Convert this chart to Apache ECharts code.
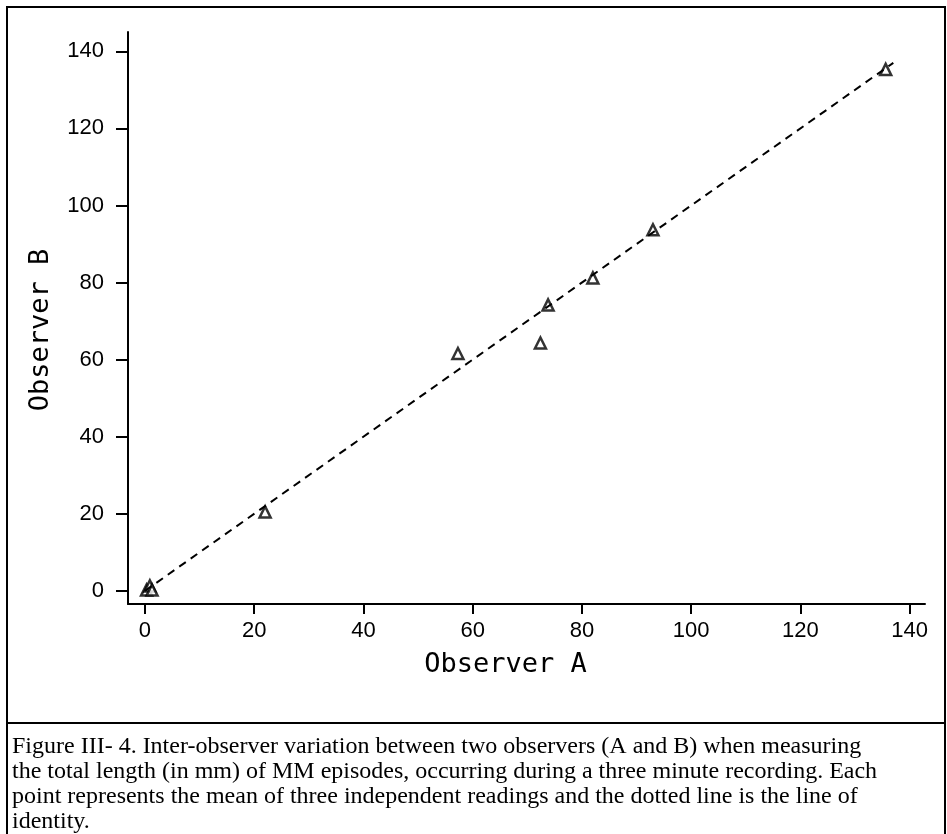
<!DOCTYPE html>
<html>
<head>
<meta charset="utf-8">
<script src="https://cdn.jsdelivr.net/npm/echarts@6/dist/echarts.min.js"></script>
<style>
html,body{margin:0;padding:0;background:#fff;}
#chart{width:947px;height:834px;}
</style>
</head>
<body>
<div id="chart"></div>
<script>
// Data
const observerA = [0.3, 0.9, 1.3, 22.0, 57.3, 72.4, 73.8, 82.0, 93.0, 135.6];
const observerB = [0.2, 1.3, 0.2, 20.5, 61.6, 64.3, 74.2, 81.2, 93.7, 135.3];
const identityLine = [[0, 0], [137, 137]];
const tickValues = [0, 20, 40, 60, 80, 100, 120, 140];
const xTitle = 'Observer A';
const yTitle = 'Observer B';
const captionLines = [
  'Figure III- 4. Inter-observer variation between two observers (A and B) when measuring',
  'the total length (in mm) of MM episodes, occurring during a three minute recording. Each',
  'point represents the mean of three independent readings and the dotted line is the line of',
  'identity.'
];

const points = observerA.map((a, i) => [a, observerB[i]]);

const chart = echarts.init(document.getElementById('chart'), null, {renderer: 'canvas'});
const tickFont = {fontFamily: 'Liberation Sans', fontSize: 22, color: '#000'};
const titleFont = {fontFamily: 'DejaVu Sans Mono', fontSize: 27, color: '#000'};

chart.setOption({
  backgroundColor: '#fff',
  animation: false,
  grid: {left: 128, top: 32, right: 22, bottom: 230, containLabel: false},
  xAxis: {
    type: 'value', min: -3.1, max: 142.8,
    name: xTitle, nameLocation: 'middle', nameGap: 47,
    nameTextStyle: Object.assign({}, titleFont, {padding: [0, 42, 0, 0]}),
    axisLine: {show: true, onZero: false, lineStyle: {color: '#000', width: 2}},
    axisTick: {show: true, length: 10, lineStyle: {color: '#000', width: 2}, customValues: tickValues},
    axisLabel: Object.assign({margin: 16, customValues: tickValues}, tickFont),
    splitLine: {show: false}
  },
  yAxis: {
    type: 'value', min: -3.4, max: 145,
    name: yTitle, nameLocation: 'middle', nameGap: 74,
    nameTextStyle: Object.assign({}, titleFont, {padding: [0, 24, 0, 0]}),
    axisLine: {show: true, onZero: false, lineStyle: {color: '#000', width: 2}},
    axisTick: {show: true, length: 12, lineStyle: {color: '#000', width: 2}, customValues: tickValues},
    axisLabel: Object.assign({margin: 24, customValues: tickValues}, tickFont),
    splitLine: {show: false}
  },
  series: [
    {
      type: 'line', data: identityLine, showSymbol: false, silent: true,
      lineStyle: {color: '#000', width: 2, type: [8, 6]}
    },
    {
      type: 'scatter', data: points, symbol: 'triangle', symbolSize: 11,
      itemStyle: {color: '#fff', borderColor: '#000', borderWidth: 2.5}
    }
  ],
  graphic: [
    {type: 'rect', shape: {x: 7, y: 7, width: 938, height: 840}, style: {fill: 'none', stroke: '#000', lineWidth: 2}, silent: true},
    {type: 'line', shape: {x1: 7, y1: 723, x2: 945, y2: 723}, style: {stroke: '#000', lineWidth: 2}, silent: true},
    {type: 'text', left: 12, top: 734, style: {text: captionLines.join('\n'), fontFamily: 'Liberation Serif', fontSize: 24, lineHeight: 25, fill: '#000'}}
  ]
});
</script>
</body>
</html>
